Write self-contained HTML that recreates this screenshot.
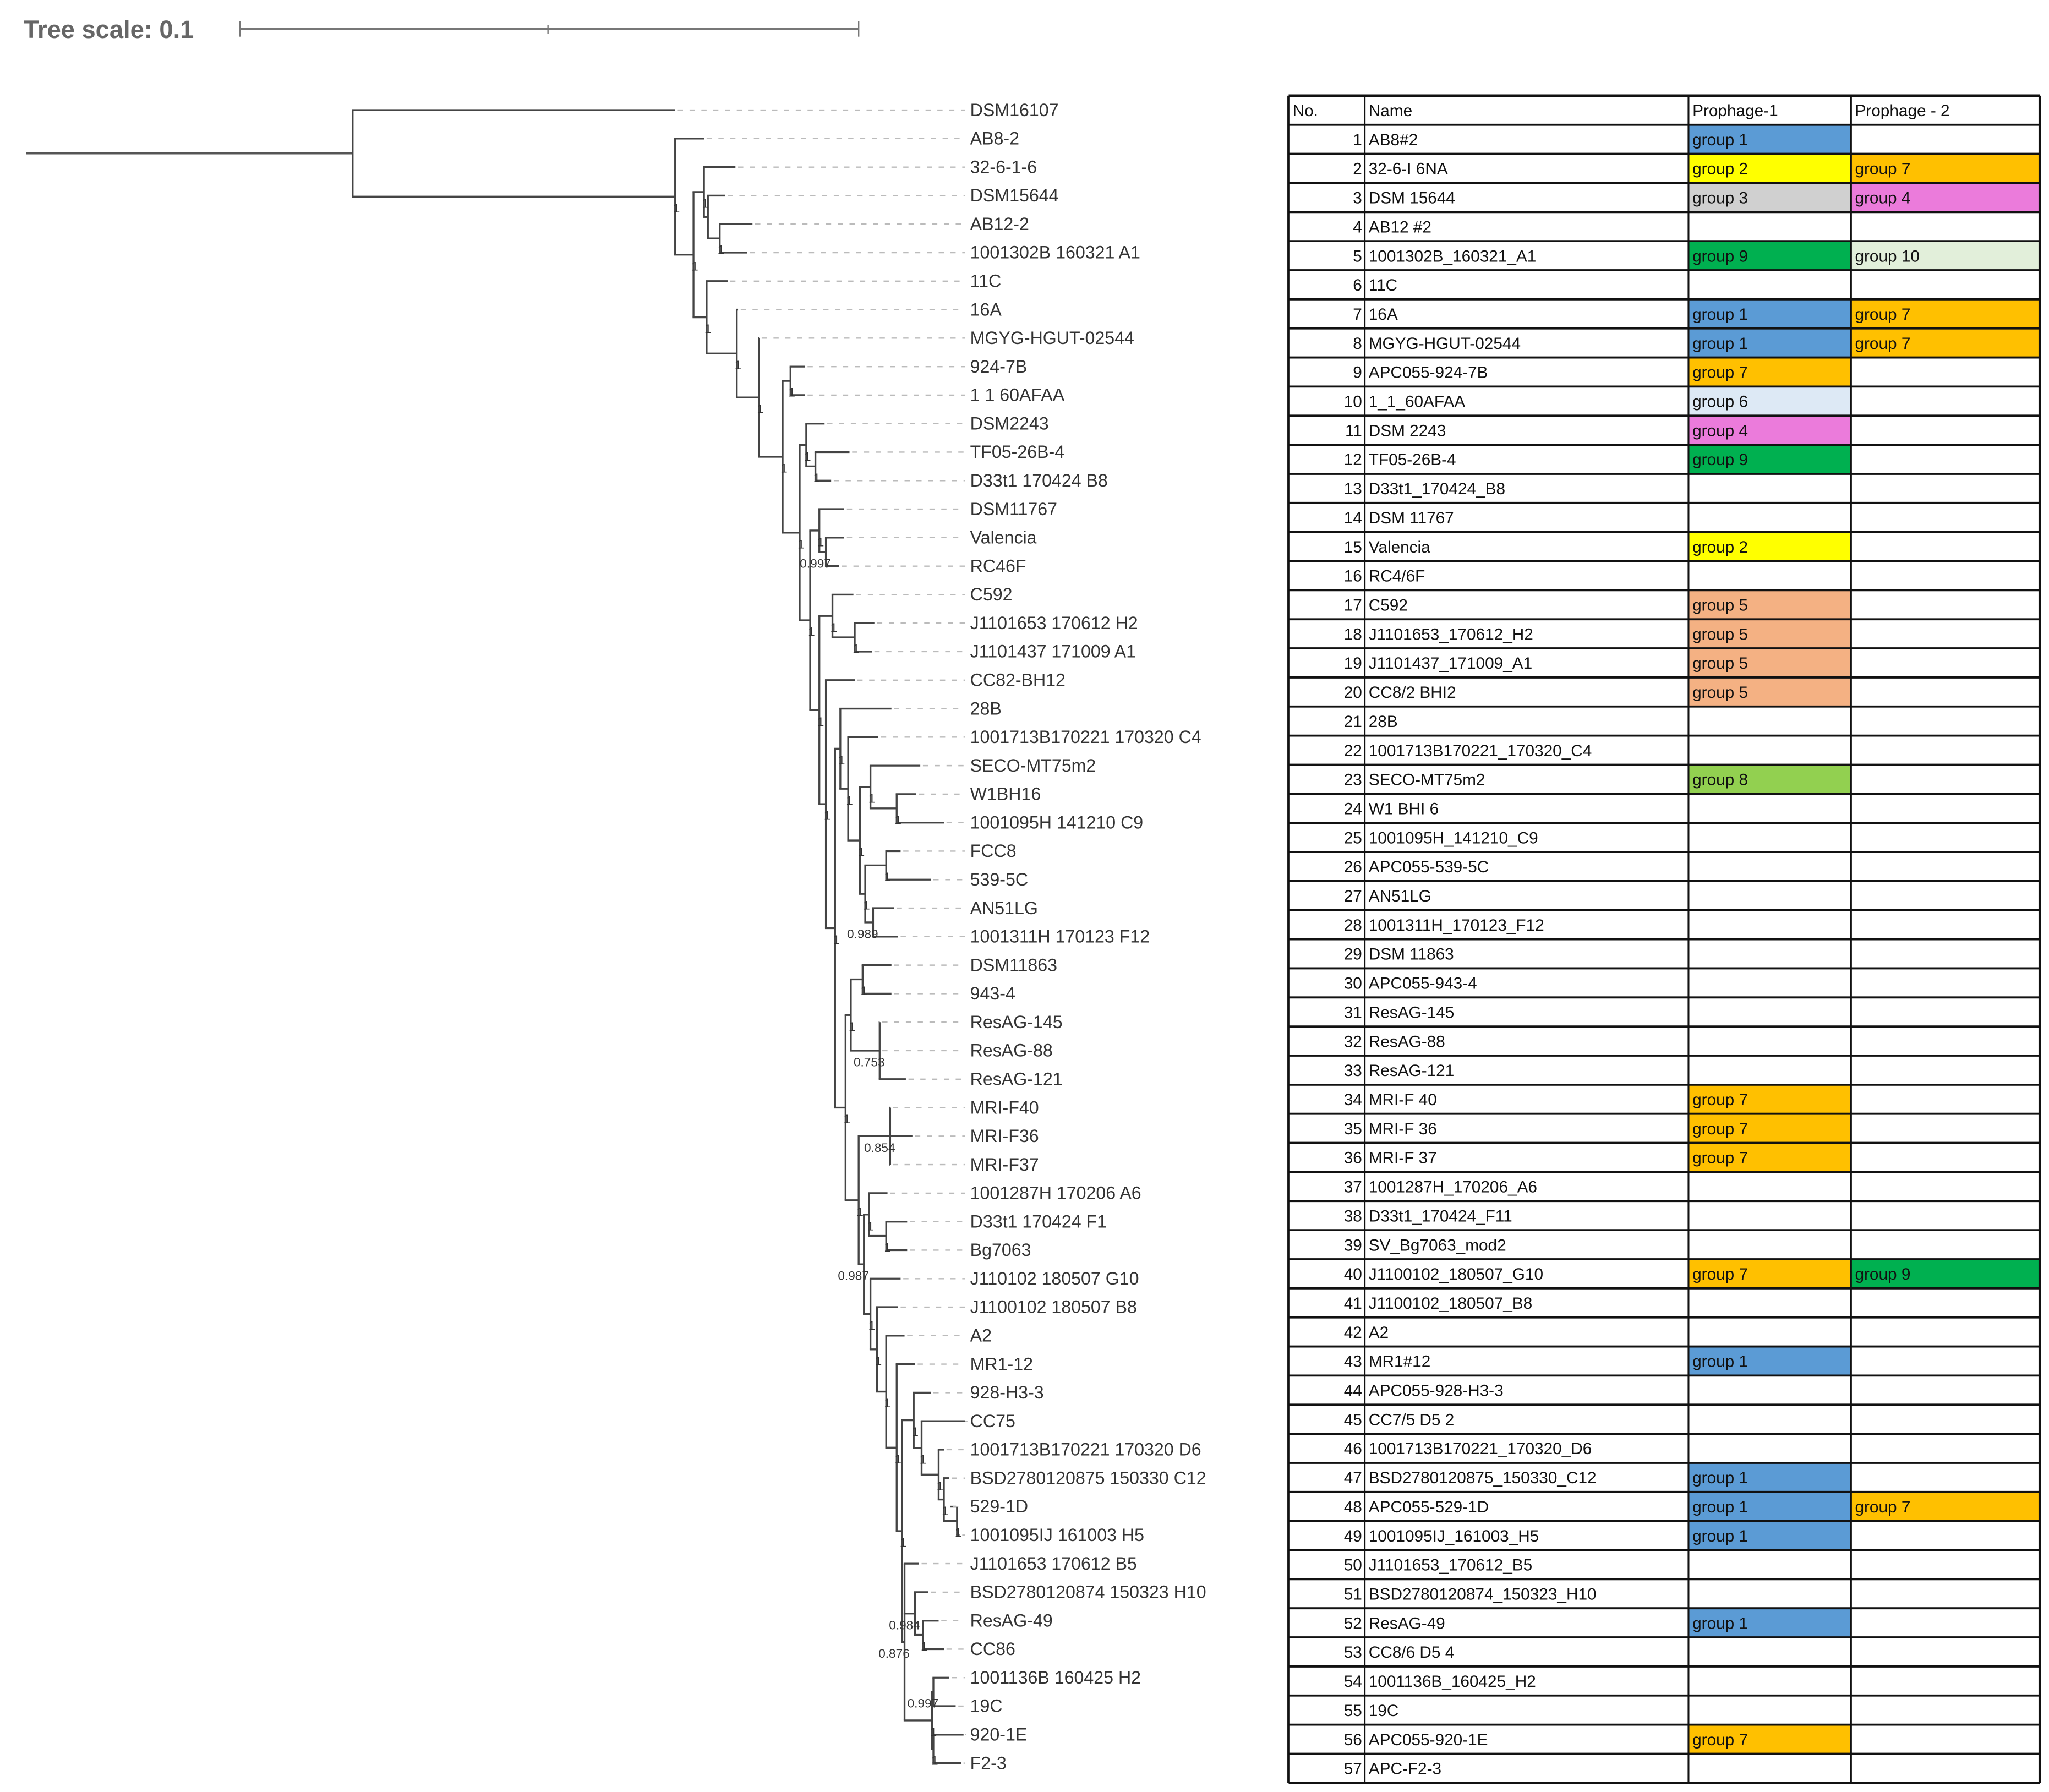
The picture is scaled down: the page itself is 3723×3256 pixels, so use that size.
<!DOCTYPE html>
<html><head><meta charset="utf-8"><title>Phylogenetic tree and prophage table</title>
<style>
html,body{margin:0;padding:0;background:#fff;}
svg{display:block;}
.lbl{font-family:"Liberation Sans",sans-serif;font-size:13.5px;fill:#333;}
.sup{font-family:"Liberation Sans",sans-serif;font-size:9.5px;fill:#333;}
.tb{font-family:"Liberation Sans Narrow","Liberation Sans",sans-serif;font-size:12.5px;fill:#111;}
</style></head>
<body>
<svg id="fig" xmlns="http://www.w3.org/2000/svg" width="3723" height="3256" viewBox="0 0 1563 1367" preserveAspectRatio="none">
<g>
<text x="18" y="29" font-family="Liberation Sans, sans-serif" font-size="19" font-weight="bold" fill="#666">Tree scale: 0.1</text>
<line x1="183" y1="22" x2="655" y2="22" stroke="#777" stroke-width="1.5"/>
<line x1="183" y1="16" x2="183" y2="28" stroke="#777" stroke-width="1"/>
<line x1="418" y1="19" x2="418" y2="26" stroke="#777" stroke-width="1"/>
<line x1="655" y1="16" x2="655" y2="28" stroke="#777" stroke-width="1"/>
</g>
<g id="tree"></g>
<g id="table"></g>
</svg>
<script>
// ---- tree data ----
function N(x,s){return {x:x,s:s,c:Array.prototype.slice.call(arguments,2)};}
function L(name,x){return {name:name,x:x};}

const cladeV = N(641,'1', L('28B',680),
  N(647,'1', L('1001713B170221 170320 C4',670),
    N(656,'1',
      N(664,'1', L('SECO-MT75m2',702), N(684,'1', L('W1BH16',699), L('1001095H 141210 C9',720))),
      N(660,'1', N(676,'1', L('FCC8',687), L('539-5C',710)), N(666,'0.989', L('AN51LG',682), L('1001311H 170123 F12',685))))));

const cladeWM = N(688,'1',
  N(697,'1', L('928-H3-3',710),
    N(703,'1', L('CC75',736),
      N(716,'1', L('1001713B170221 170320 D6',720),
        N(720,'1', L('BSD2780120875 150330 C12',724),
          N(730,'1', L('529-1D',725), L('1001095IJ 161003 H5',732)))))),
  N(690,'0.876', L('J1101653 170612 B5',701),
    N(698,'0.984', L('BSD2780120874 150323 H10',708), N(704,'1', L('ResAG-49',716), L('CC86',720))),
    N(711,'1', N(712,'0.997', L('1001136B 160425 H2',724), L('19C',729)), N(712,'1', L('920-1E',735), L('F2-3',733)))));

const cladeWH = N(664,'1', L('J110102 180507 G10',687),
  N(669,'1', L('J1100102 180507 B8',685),
    N(676,'1', L('A2',690),
      N(684,'1', L('MR1-12',698), cladeWM))));

const cladeW = N(645,'1',
  N(649,'1', N(658,'1', L('DSM11863',680), L('943-4',680)), N(671,'0.753', L('ResAG-145',671), L('ResAG-88',671), L('ResAG-121',691))),
  N(655,'1', N(679,'0.854', L('MRI-F40',679), L('MRI-F36',696), L('MRI-F37',679)),
    N(659,'0.987', N(663,'1', L('1001287H 170206 A6',677), N(676,'1', L('D33t1 170424 F1',692), L('Bg7063',692))), cladeWH)));

const cladeS = N(630,'1', L('CC82-BH12',652), N(637,'1', cladeV, cladeW));

const cladeK = N(610,'1',
  N(615,'1', L('DSM2243',629), N(622,'1', L('TF05-26B-4',648), L('D33t1 170424 B8',634))),
  N(618,'1',
    N(625,'1', L('DSM11767',644), N(630,'0.997', L('Valencia',644), L('RC46F',640))),
    N(625,'1', N(635,'1', L('C592',651), N(652,'1', L('J1101653 170612 H2',667), L('J1101437 171009 A1',665))), cladeS)));

const cladeD = N(539,'1', L('11C',555),
  N(562,'1', L('16A',563),
    N(579,'1', L('MGYG-HGUT-02544',579),
      N(597,'1', N(603,'1', L('924-7B',614), L('1 1 60AFAA',614)), cladeK))));

const phyloTree = N(269,'', L('DSM16107',515),
  N(515,'1', L('AB8-2',537),
    N(529,'1',
      N(537,'1', L('32-6-1-6',561), N(540,'', L('DSM15644',553), N(549,'1', L('AB12-2',574), L('1001302B 160321 A1',570)))),
      cladeD)));

// ---- table data ----
const rowNames = ['AB8#2','32-6-I 6NA','DSM 15644','AB12 #2','1001302B_160321_A1','11C','16A','MGYG-HGUT-02544','APC055-924-7B','1_1_60AFAA','DSM 2243','TF05-26B-4','D33t1_170424_B8','DSM 11767','Valencia','RC4/6F','C592','J1101653_170612_H2','J1101437_171009_A1','CC8/2 BHI2','28B','1001713B170221_170320_C4','SECO-MT75m2','W1 BHI 6','1001095H_141210_C9','APC055-539-5C','AN51LG','1001311H_170123_F12','DSM 11863','APC055-943-4','ResAG-145','ResAG-88','ResAG-121','MRI-F 40','MRI-F 36','MRI-F 37','1001287H_170206_A6','D33t1_170424_F11','SV_Bg7063_mod2','J1100102_180507_G10','J1100102_180507_B8','A2','MR1#12','APC055-928-H3-3','CC7/5 D5 2','1001713B170221_170320_D6','BSD2780120875_150330_C12','APC055-529-1D','1001095IJ_161003_H5','J1101653_170612_B5','BSD2780120874_150323_H10','ResAG-49','CC8/6 D5 4','1001136B_160425_H2','19C','APC055-920-1E','APC-F2-3'];
const prophage1 = [1,2,3,0,9,0,1,1,7,6,4,9,0,0,2,0,5,5,5,5,0,0,8,0,0,0,0,0,0,0,0,0,0,7,7,7,0,0,0,7,0,0,1,0,0,0,1,1,1,0,0,1,0,0,0,7,0];
const prophage2 = [0,7,4,0,10,0,7,7,0,0,0,0,0,0,0,0,0,0,0,0,0,0,0,0,0,0,0,0,0,0,0,0,0,0,0,0,0,0,0,9,0,0,0,0,0,0,0,7,0,0,0,0,0,0,0,0,0];
const groupColors = {1:'#5b9bd5',2:'#ffff00',3:'#d0d0d0',4:'#eb7bdb',5:'#f4b183',6:'#dde9f5',7:'#ffc000',8:'#92d050',9:'#00b050',10:'#e2efda'};

const SVGNS='http://www.w3.org/2000/svg';
function mk(tag,attrs,parent){const e=document.createElementNS(SVGNS,tag);for(const k in attrs)e.setAttribute(k,attrs[k]);parent.appendChild(e);return e;}

// ---- draw tree ----
const tg=document.getElementById('tree');
const leafY0=84, leafStep=(1345-84)/58, labelX=740;
let leafIdx=0;
function layout(n){
  if(!n.c){n.y=leafY0+leafIdx*leafStep;leafIdx++;return n.y;}
  n.c.forEach(layout);
  n.y=(n.c[0].y+n.c[n.c.length-1].y)/2;return n.y;
}
layout(phyloTree);
function draw(n){
  if(!n.c){
    const d=mk('line',{x1:n.x+2,y1:n.y,x2:labelX-4,y2:n.y,stroke:'#bbb','stroke-width':1,'stroke-dasharray':'4 5'},tg);
    
    
    const t=mk('text',{x:labelX,y:n.y+4.5,class:'lbl'},tg);
    t.textContent=n.name;
    
    
    return;
  }
  const v=mk('line',{x1:n.x,y1:n.c[0].y,x2:n.x,y2:n.c[n.c.length-1].y,stroke:'#444','stroke-width':1.4},tg);
  
  
  n.c.forEach(ch=>{
    const h=mk('line',{x1:n.x-0.7,y1:ch.y,x2:ch.x,y2:ch.y,stroke:'#444','stroke-width':1.4},tg);
    
    
    draw(ch);
  });
  if(n.s){
    const s=mk('text',{x:n.x+(n.s.length>1?-8:1),y:n.y+12,class:'sup','text-anchor':'middle'},tg);
    s.textContent=n.s;
    
    
  }
}
const rootLine=mk('line',{x1:20,y1:phyloTree.y,x2:269,y2:phyloTree.y,stroke:'#555','stroke-width':1.5},tg);


draw(phyloTree);

// ---- draw table ----
const tb=document.getElementById('table');
const colX=[983,1041,1288,1412,1556], tableTop=73, rowH=(1360-73)/58;
const heads=['No.','Name','Prophage-1','Prophage - 2'];
heads.forEach((h,i)=>{
  const t=mk('text',{x:colX[i]+3,y:tableTop+rowH/2+4.5,class:'tb'},tb);
  t.textContent=h;
  
  
});
rowNames.forEach((nm,i)=>{
  const y=tableTop+rowH*(i+1);
  [prophage1[i],prophage2[i]].forEach((g,j)=>{
    if(!g)return;
    const r=mk('rect',{x:colX[2+j],y:y,width:colX[3+j]-colX[2+j],height:rowH,fill:groupColors[g]},tb);
    
    
    const t=mk('text',{x:colX[2+j]+3,y:y+rowH/2+4.5,class:'tb'},tb);
    t.textContent='group '+g;
    
    
  });
  const no=mk('text',{x:colX[1]-2,y:y+rowH/2+4.5,class:'tb','text-anchor':'end'},tb);
  no.textContent=String(i+1);
  
  
  const nt=mk('text',{x:colX[1]+3,y:y+rowH/2+4.5,class:'tb'},tb);
  nt.textContent=nm;
  
  
});
for(let r=0;r<=58;r++){
  const l=mk('line',{x1:colX[0],y1:tableTop+r*rowH,x2:colX[4],y2:tableTop+r*rowH,stroke:'#111','stroke-width':(r===0||r===58)?2:1.6},tb);
  
  
}
colX.forEach((x,i)=>{
  const l=mk('line',{x1:x,y1:tableTop,x2:x,y2:tableTop+58*rowH,stroke:'#111','stroke-width':(i===0||i===4)?2:1.3},tb);
  
  
});
</script>
</body></html>
